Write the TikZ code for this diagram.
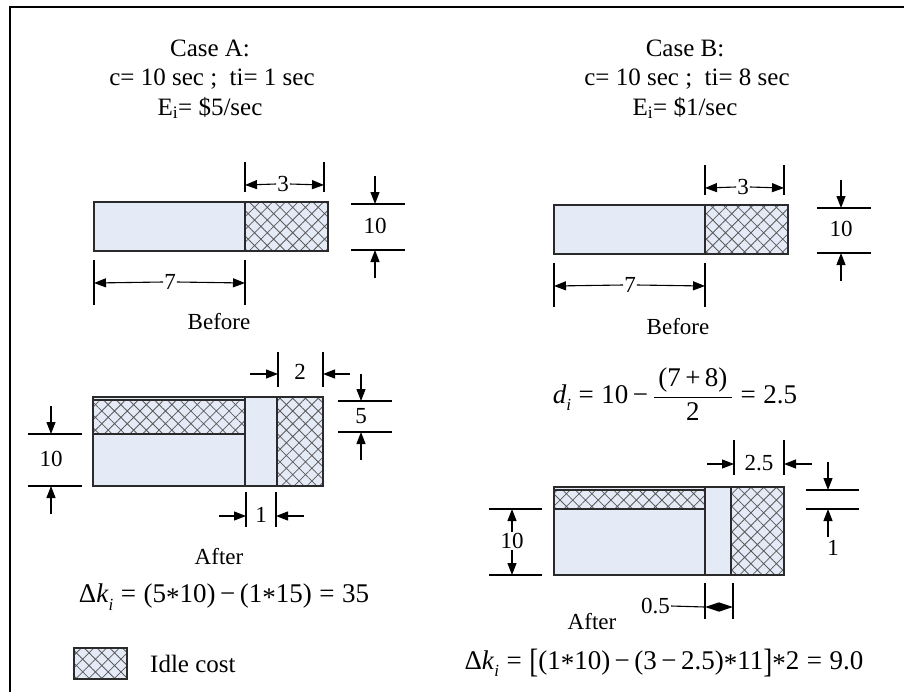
\documentclass[tikz,border=0pt]{standalone}
\usepackage{fontspec}
\usepackage{graphicx}
\setmainfont{Liberation Serif}
\usetikzlibrary{patterns.meta,arrows.meta}
\definecolor{boxfill}{HTML}{E4EBF7}
\definecolor{hatchc}{HTML}{5A5A5A}
\definecolor{edge}{HTML}{2A2A2A}
\newcommand{\st}{\raisebox{-0.3ex}{*}}
\newcommand{\bigbr}[1]{\raisebox{-0.12em}{\scalebox{1}[1.25]{#1}}}
\newcommand{\lowsub}[1]{\raisebox{-0.28em}{\fontsize{17}{19}\selectfont\textit{#1}}}
\begin{document}
\begin{tikzpicture}[x=1pt,y=-1pt,
  plain/.style={fill=boxfill,draw=edge,line width=1.3pt},
  idle/.style={fill=boxfill,
    postaction={pattern={Hatch[angle=45,distance=9pt,line width=0.8pt]},pattern color=hatchc},
    postaction={draw=edge,line width=1.3pt}},
  dimline/.style={line width=1.1pt},
  arr/.style={-{Triangle[length=12pt,width=9pt]},line width=1.1pt},
  title/.style={font=\fontsize{25}{30}\selectfont,inner sep=0pt},
  lbl/.style={font=\fontsize{23}{27}\selectfont,inner sep=1pt},
  eq/.style={font=\fontsize{27}{32}\selectfont,inner sep=0pt}]
\useasboundingbox (0,0) rectangle (904,691);
% frame
\draw[line width=2.5pt] (10,700) -- (10,7) -- (910,7);

% ---------------- Case A titles
\node[title] (tA1) at (210,48) {Case A:};
\node[title] (tA2) at (212,79) {c= 10 sec ;\ \ ti= 1 sec};
\node[title] (tA3) at (210,108) {E\textsubscript{i}= \$5/sec};

% Before A
\path[plain] (94,202) rectangle (245,251);
\path[idle] (245,202) rectangle (328,251);
\draw[dimline] (245,162) -- (245,192) (324,162) -- (324,192);
\node[lbl] (a3) at (283,184) {3};
\draw[arr] (a3.west) -- (245,185);
\draw[arr] (a3.east) -- (324,185);
\draw[dimline] (351,204) -- (405,204) (351,250) -- (405,250);
\draw[arr] (375,176) -- (375,204);
\draw[arr] (375,278) -- (375,250);
\node[lbl] (a10) at (375,226) {10};
\draw[dimline] (94,260) -- (94,305) (245,260) -- (245,305);
\node[lbl] (a7) at (170,282) {7};
\draw[arr] (a7.west) -- (94,283);
\draw[arr] (a7.east) -- (245,283);
\node[lbl] (bA) at (219,322) {Before};

% After A
\path[plain] (93,397) rectangle (245,486);
\path[idle] (93,400) rectangle (245,434);
\path[plain] (245,397) rectangle (277,486);
\path[idle] (277,397) rectangle (323,486);
\draw[dimline] (278,352) -- (278,387) (323,352) -- (323,387);
\draw[arr] (250,374) -- (278,374);
\draw[arr] (350,374) -- (323,374);
\node[lbl] (a2) at (300,372) {2};
\draw[dimline] (338,401) -- (392,401) (338,432) -- (392,432);
\draw[arr] (361,374) -- (361,401);
\draw[arr] (361,460) -- (361,432);
\node[lbl] (a5) at (361,416) {5};
\draw[dimline] (28,434) -- (82,434) (28,486) -- (82,486);
\draw[arr] (51,406) -- (51,434);
\draw[arr] (51,514) -- (51,486);
\node[lbl] (a10b) at (51,459) {10};
\draw[dimline] (246,492) -- (246,527) (276,492) -- (276,527);
\draw[arr] (219,516) -- (246,516);
\draw[arr] (304,516) -- (276,516);
\node[lbl] (a1) at (261,515) {1};
\node[lbl] (afA) at (219,557) {After};
\node[eq] (fA) at (224,597) {Δ\textit{k}\lowsub{i}\;=\;(5\st10)\,−\,(1\st15)\;=\;35};

% legend
\path[idle] (74,648) rectangle (127,679);
\node[font=\fontsize{25}{30}\selectfont,inner sep=0pt,anchor=west] (leg) at (150,664) {Idle cost};

% ---------------- Case B titles
\node[title] (tB1) at (685,48) {Case B:};
\node[title] (tB2) at (687,79) {c= 10 sec ;\ \ ti= 8 sec};
\node[title] (tB3) at (685,108) {E\textsubscript{i}= \$1/sec};

% Before B
\path[plain] (554,205) rectangle (705,254);
\path[idle] (705,205) rectangle (788,254);
\draw[dimline] (705,165) -- (705,195) (784,165) -- (784,195);
\node[lbl] (b3) at (743,187) {3};
\draw[arr] (b3.west) -- (705,188);
\draw[arr] (b3.east) -- (784,188);
\draw[dimline] (817,208) -- (871,208) (817,253) -- (871,253);
\draw[arr] (841,180) -- (841,208);
\draw[arr] (841,281) -- (841,253);
\node[lbl] (b10) at (841,229) {10};
\draw[dimline] (554,263) -- (554,307) (705,263) -- (705,307);
\node[lbl] (b7) at (630,285) {7};
\draw[arr] (b7.west) -- (554,286);
\draw[arr] (b7.east) -- (705,286);
\node[lbl] (bB) at (678,327) {Before};

% d_i formula
\node[eq] (fD) at (675,394) {\textit{d}\lowsub{i}\;=\;10\,−\,$\displaystyle\frac{\mbox{\,(7\,+\,8)\,}}{\mbox{2}}$\;=\;2.5};

% After B
\path[plain] (554,487) rectangle (705,575);
\path[idle] (554,490) rectangle (705,509);
\path[plain] (705,487) rectangle (731,575);
\path[idle] (731,487) rectangle (784,575);
\draw[dimline] (734,440) -- (734,475) (784,440) -- (784,475);
\draw[arr] (707,464) -- (734,464);
\draw[arr] (812,464) -- (784,464);
\node[lbl] (b25) at (759,463) {2.5};
\draw[dimline] (806,490) -- (859,490) (806,509) -- (859,509);
\draw[arr] (828,462) -- (828,490);
\draw[arr] (828,537) -- (828,509);
\node[lbl] (b1) at (833,548) {1};
\draw[dimline] (489,509) -- (542,509) (489,575) -- (542,575);
\node[lbl] (b10b) at (512,541) {10};
\draw[arr] (b10b.north) -- (512,509);
\draw[arr] (b10b.south) -- (512,575);
\draw[dimline] (705,583) -- (705,619) (733,583) -- (733,619);
\coordinate (h1) at (705,607);
\coordinate (h2) at (733,607);
\draw[{Triangle[length=14pt,width=9pt]}-{Triangle[length=14pt,width=9pt]},line width=1.1pt] (h1) -- (h2);
\node[lbl,anchor=east] (b05) at (671,606) {0.5};
\draw[dimline] (b05.east) -- (h1);
\node[lbl] (afB) at (592,622) {After};
\node[eq] (fB) at (664,663) {Δ\textit{k}\lowsub{i}\;=\;\bigbr{[}(1\st10)\,−\,(3\,−\,2.5)\st11\bigbr{]}\st2\;=\;9.0};
\end{tikzpicture}
\end{document}
